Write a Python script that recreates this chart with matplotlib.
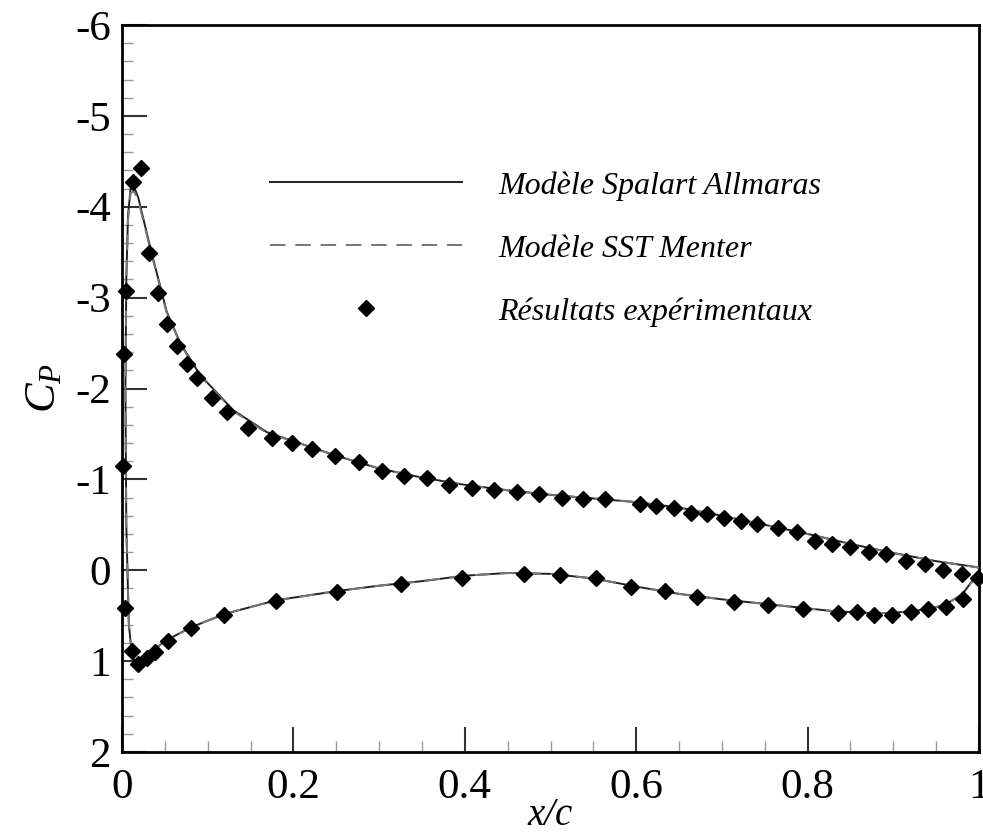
import numpy as np
import matplotlib
matplotlib.use('Agg')
import matplotlib.pyplot as plt
from matplotlib.lines import Line2D
from matplotlib.ticker import MultipleLocator, FixedLocator, FixedFormatter

plt.rcParams['font.family'] = ['Liberation Serif', 'DejaVu Serif']
plt.rcParams['mathtext.fontset'] = 'custom'
plt.rcParams['mathtext.it'] = 'Liberation Serif:italic'
plt.rcParams['mathtext.rm'] = 'Liberation Serif'
plt.rcParams['axes.unicode_minus'] = False

# ---------------- Data ----------------
# CFD curve, Spalart-Allmaras (lower surface TE -> LE -> upper surface TE)
sa_x = [1.0, 0.98, 0.96, 0.94, 0.90, 0.87, 0.83, 0.80, 0.75, 0.70, 0.65, 0.60,
        0.55, 0.50, 0.45, 0.40, 0.35, 0.30, 0.25, 0.18, 0.12, 0.08, 0.05, 0.03,
        0.02, 0.012, 0.008, 0.005, 0.004, 0.005, 0.007, 0.010, 0.014, 0.019,
        0.033, 0.052, 0.068, 0.091, 0.13, 0.169, 0.20, 0.25, 0.30, 0.35, 0.40,
        0.45, 0.50, 0.55, 0.60, 0.65, 0.70, 0.75, 0.80, 0.85, 0.90, 0.95, 1.0]
sa_cp = [0.02, 0.27, 0.38, 0.43, 0.47, 0.47, 0.45, 0.42, 0.37, 0.32, 0.26, 0.18,
         0.09, 0.04, 0.03, 0.06, 0.12, 0.17, 0.23, 0.33, 0.48, 0.63, 0.78, 0.93,
         1.02, 0.97, 0.60, -0.50, -2.00, -3.20, -3.90, -4.20, -4.22, -4.10,
         -3.55, -2.85, -2.50, -2.15, -1.76, -1.52, -1.42, -1.26, -1.12, -1.02, -0.94,
         -0.88, -0.83, -0.79, -0.75, -0.69, -0.60, -0.50, -0.40, -0.29, -0.19, -0.10, -0.03]

# CFD curve, SST Menter
sst_x = sa_x
sst_cp = [0.03, 0.27, 0.38, 0.43, 0.47, 0.47, 0.45, 0.42, 0.37, 0.32, 0.26, 0.18,
          0.09, 0.04, 0.03, 0.06, 0.12, 0.17, 0.23, 0.33, 0.48, 0.63, 0.78, 0.93,
          1.01, 0.96, 0.58, -0.50, -2.00, -3.15, -3.85, -4.15, -4.17, -4.07,
          -3.53, -2.84, -2.49, -2.14, -1.75, -1.51, -1.42, -1.26, -1.12, -1.02, -0.94,
          -0.88, -0.83, -0.79, -0.75, -0.69, -0.60, -0.50, -0.40, -0.29, -0.19, -0.10, -0.03]

# Experimental points, upper surface
exp_up_x = [0.0016, 0.002, 0.005, 0.013, 0.022, 0.032, 0.042, 0.053, 0.064, 0.076,
            0.088, 0.105, 0.122, 0.147, 0.175, 0.198, 0.222, 0.249, 0.276, 0.303,
            0.329, 0.356, 0.382, 0.408, 0.434, 0.461, 0.487, 0.513, 0.538, 0.564,
            0.604, 0.623, 0.644, 0.664, 0.683, 0.702, 0.722, 0.741, 0.766, 0.788,
            0.809, 0.829, 0.850, 0.872, 0.892, 0.915, 0.937, 0.958, 0.980, 0.999]
exp_up_cp = [-1.15, -2.38, -3.07, -4.27, -4.43, -3.49, -3.05, -2.71, -2.47, -2.27,
             -2.12, -1.90, -1.74, -1.57, -1.46, -1.40, -1.33, -1.26, -1.19, -1.09,
             -1.04, -1.01, -0.94, -0.91, -0.88, -0.86, -0.84, -0.79, -0.78, -0.78,
             -0.73, -0.71, -0.68, -0.63, -0.62, -0.58, -0.54, -0.51, -0.46, -0.42,
             -0.32, -0.29, -0.26, -0.20, -0.18, -0.10, -0.07, 0.00, 0.04, 0.08]

# Experimental points, lower surface
exp_lo_x = [0.0035, 0.012, 0.019, 0.029, 0.038, 0.054, 0.080, 0.119, 0.180, 0.251,
            0.325, 0.397, 0.469, 0.511, 0.553, 0.594, 0.634, 0.671, 0.714, 0.754,
            0.795, 0.836, 0.858, 0.877, 0.898, 0.921, 0.940, 0.962, 0.981]
exp_lo_cp = [0.41, 0.89, 1.03, 0.97, 0.90, 0.78, 0.64, 0.49, 0.34, 0.24,
             0.15, 0.08, 0.04, 0.05, 0.09, 0.18, 0.23, 0.29, 0.35, 0.38,
             0.43, 0.47, 0.46, 0.49, 0.49, 0.46, 0.43, 0.40, 0.32]

x_ticks = [0, 0.2, 0.4, 0.6, 0.8, 1.0]
x_tick_labels = ['0', '0.2', '0.4', '0.6', '0.8', '1']
y_ticks = [-6, -5, -4, -3, -2, -1, 0, 1, 2]
y_tick_labels = ['-6', '-5', '-4', '-3', '-2', '-1', '0', '1', '2']

legend_labels = ['Modèle Spalart Allmaras', 'Modèle SST Menter', 'Résultats expérimentaux']

# ---------------- Plot ----------------
fig = plt.figure(figsize=(9.83, 8.34), dpi=100)
ax = fig.add_axes([122 / 983, 1 - 752 / 834, 857 / 983, 727 / 834])

dash = (0, (8, 5))
ax.plot(sa_x, sa_cp, color='#222222', lw=1.4, zorder=2)
ax.plot(sst_x, sst_cp, color='#777777', lw=1.4, ls=dash, zorder=3)
ax.plot(exp_up_x, exp_up_cp, ls='none', marker='D', ms=8, color='black', zorder=4,
        clip_on=False)
ax.plot(exp_lo_x, exp_lo_cp, ls='none', marker='D', ms=8, color='black', zorder=4,
        clip_on=False)

ax.set_xlim(0, 1)
ax.set_ylim(2, -6)

ax.xaxis.set_major_locator(FixedLocator(x_ticks))
ax.xaxis.set_major_formatter(FixedFormatter(x_tick_labels))
ax.xaxis.set_minor_locator(MultipleLocator(0.05))
ax.yaxis.set_major_locator(FixedLocator(y_ticks))
ax.yaxis.set_major_formatter(FixedFormatter(y_tick_labels))
ax.yaxis.set_minor_locator(MultipleLocator(0.2))

ax.tick_params(which='both', direction='in', top=False, right=False, labelsize=31,
               width=1.5, color='#333333')
ax.tick_params(which='major', length=18)
ax.tick_params(which='minor', length=8, width=1.0, color='#999999')
ax.tick_params(axis='x', pad=12)
ax.tick_params(axis='y', pad=8)

for s in ax.spines.values():
    s.set_linewidth(2.0)

ax.set_xlabel('x/c', fontsize=28, style='italic', labelpad=-7)
ax.set_ylabel(r'$C_P$', fontsize=32, labelpad=8)

handles = [
    Line2D([], [], color='#222222', lw=1.4),
    Line2D([], [], color='#777777', lw=1.4, ls=dash),
    Line2D([], [], ls='none', marker='D', ms=8, color='black'),
]
leg = ax.legend(handles, legend_labels, loc='upper left', bbox_to_anchor=(0.173, 0.799),
                frameon=False, borderpad=0, borderaxespad=0, handlelength=6.0,
                handletextpad=1.15, labelspacing=1.05,
                prop={'family': 'Liberation Serif', 'style': 'italic', 'size': 23})

fig.savefig('out.png', dpi=100)
